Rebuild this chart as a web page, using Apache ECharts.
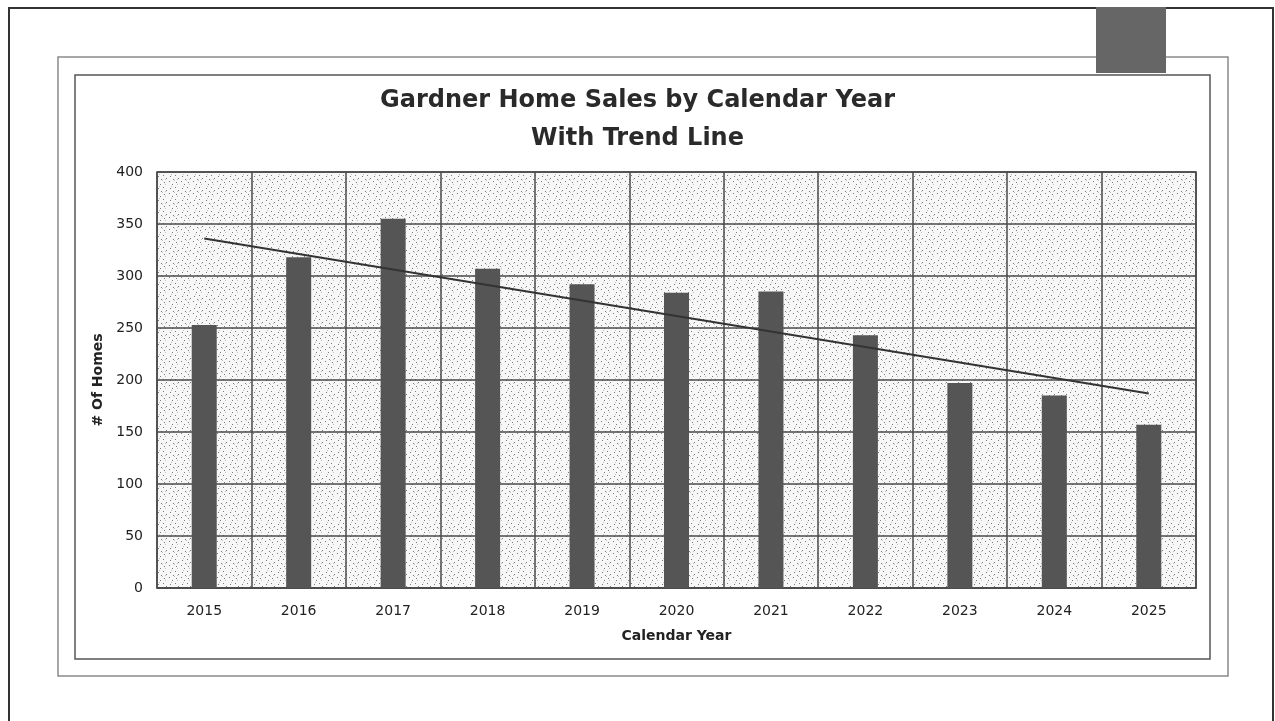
<!DOCTYPE html>
<html>
<head>
<meta charset="utf-8">
<script src="https://cdn.jsdelivr.net/npm/echarts@6/dist/echarts.min.js"></script>
<style>
html,body{margin:0;padding:0;background:#fff;}
#chart{width:1275px;height:721px;}
</style>
</head>
<body>
<div id="chart"></div>
<script>
// ---- data ----
const years = ['2015','2016','2017','2018','2019','2020','2021','2022','2023','2024','2025'];
const homesSold = [253, 318, 355, 307, 292, 284, 285, 243, 197, 185, 157];
const trendEnds = [336, 187]; // trend line value at first and last year
const yTicks = [0, 50, 100, 150, 200, 250, 300, 350, 400];

const trendData = years.map((y, i) => i === 0 ? trendEnds[0] : (i === years.length - 1 ? trendEnds[1] : null));

// stipple texture for the plot area
function makePattern() {
  const c = document.createElement('canvas');
  c.width = 12; c.height = 12;
  const g = c.getContext('2d');
  g.fillStyle = '#f7f7f7';
  g.fillRect(0, 0, 12, 12);
  g.fillStyle = '#7a7a7a';
  const dots = [[1,1],[4,4],[7,7],[10,10],[8,2],[2,8],[5,11]];
  dots.forEach(d => g.fillRect(d[0], d[1], 1, 1));
  g.fillStyle = '#c0c0c0';
  [[3,6],[9,4],[6,0],[9,11]].forEach(d => g.fillRect(d[0], d[1], 1, 1));
  return c;
}

const font = 'DejaVu Sans';
const chart = echarts.init(document.getElementById('chart'), null, {renderer: 'canvas'});
chart.setOption({
  backgroundColor: '#ffffff',
  animation: false,
  title: {
    text: 'Gardner Home Sales by Calendar Year\nWith Trend Line',
    left: 'center',
    top: 77,
    textStyle: {fontFamily: font, fontWeight: 'bold', fontSize: 24, color: '#2a2a2a', lineHeight: 38}
  },
  grid: {
    left: 157, top: 172, right: 79, bottom: 133,
    show: true,
    backgroundColor: {image: makePattern(), repeat: 'repeat'},
    borderColor: '#4a4a4a', borderWidth: 1.5
  },
  xAxis: {
    type: 'category',
    data: years,
    boundaryGap: true,
    name: 'Calendar Year',
    nameLocation: 'middle',
    nameGap: 41,
    nameTextStyle: {fontFamily: font, fontWeight: 'bold', fontSize: 14, color: '#222'},
    axisLine: {show: true, lineStyle: {color: '#4a4a4a', width: 1.5}},
    axisTick: {show: false},
    axisLabel: {fontFamily: font, fontSize: 14, color: '#222', margin: 16},
    splitLine: {show: true, lineStyle: {color: '#4a4a4a', width: 1.5}}
  },
  yAxis: {
    type: 'value',
    min: yTicks[0], max: yTicks[yTicks.length - 1], interval: yTicks[1] - yTicks[0],
    name: '# Of Homes',
    nameLocation: 'middle',
    nameGap: 48,
    nameRotate: 90,
    nameTextStyle: {fontFamily: font, fontWeight: 'bold', fontSize: 14, color: '#222'},
    axisLine: {show: false},
    axisTick: {show: false},
    axisLabel: {fontFamily: font, fontSize: 14, color: '#222', margin: 14},
    splitLine: {show: true, lineStyle: {color: '#4a4a4a', width: 1.5}}
  },
  series: [
    {
      type: 'bar',
      data: homesSold,
      barWidth: 25,
      itemStyle: {color: '#555555'},
      z: 2
    },
    {
      type: 'line',
      data: trendData,
      connectNulls: true,
      symbol: 'none',
      lineStyle: {color: '#333', width: 2},
      z: 3
    }
  ],
  graphic: [
    {type: 'rect', shape: {x: 9, y: 8, width: 1264, height: 740}, style: {fill: 'none', stroke: '#333', lineWidth: 2}, silent: true},
    {type: 'rect', shape: {x: 58, y: 57, width: 1170, height: 619}, style: {fill: 'none', stroke: '#8a8a8a', lineWidth: 1.5}, silent: true},
    {type: 'rect', shape: {x: 75, y: 75, width: 1135, height: 584}, style: {fill: 'none', stroke: '#555', lineWidth: 1.5}, silent: true},
    {type: 'rect', shape: {x: 1096, y: 7, width: 70, height: 66}, style: {fill: '#666', stroke: 'none'}, silent: true}
  ]
});
</script>
</body>
</html>
